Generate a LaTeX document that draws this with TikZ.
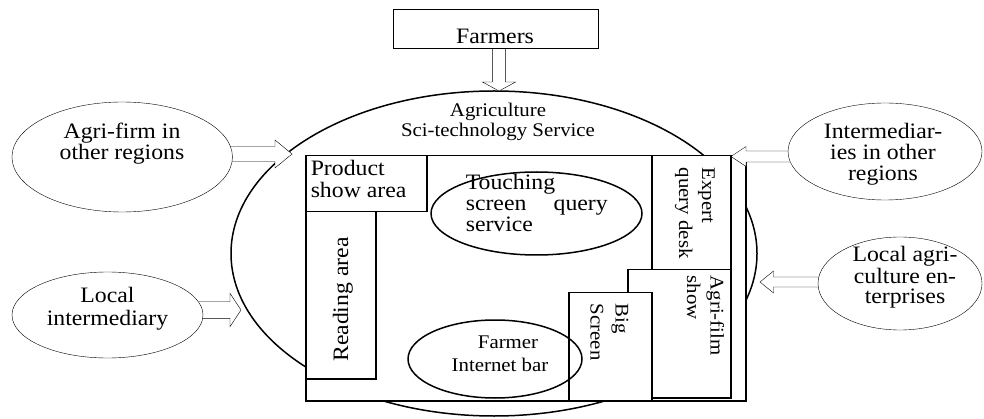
\documentclass[tikz,border=0pt]{standalone}
\usepackage{fontspec}
\setmainfont{Liberation Serif}[FakeStretch=1.08]
\usetikzlibrary{shapes.geometric,calc}
\pgfdeclarelayer{front}
\pgfsetlayers{main,front}
\newcommand{\fL}[1]{\fontsize{22}{#1}\selectfont}
\newcommand{\fS}[1]{\fontsize{19.3}{#1}\selectfont}
\newcommand{\linesof}[2]{\begin{tabular}[t]{@{}#1@{}}#2\end{tabular}}
\newcommand{\hollowarrow}[5]{%
  \coordinate (ha-s) at ($(#1)!-4pt!(#2)$);
  \coordinate (ha-h) at ($(#2)!#5!(ha-s)$);
  \draw[blockarrow] ($(ha-s)!#3!90:(#2)$) -- ($(ha-h)!#3!-90:(ha-s)$)
    -- ($(ha-h)!#4!-90:(ha-s)$) -- (#2) -- ($(ha-h)!#4!90:(ha-s)$)
    -- ($(ha-h)!#3!90:(ha-s)$) -- ($(ha-s)!#3!-90:(#2)$);
}
\begin{document}
\begin{tikzpicture}[x=1pt,y=-1pt,line width=1.5pt,
  zone/.style={draw, fill=white, inner sep=0pt, anchor=north west},
  oval/.style={draw, ellipse, inner sep=0pt},
  party/.style={draw, ellipse, fill=white, inner sep=0pt},
  lbl/.style={inner sep=0pt},
  blockarrow/.style={draw, fill=white, line join=miter}]
\useasboundingbox (0,0) rectangle (984,419);

% service area
\node[oval, minimum width=526pt, minimum height=325pt] (svc) at (494,253.5) {};
\node[lbl, anchor=base] (svct) at (498,117) {\fS{20}\linesof{c}{Agriculture\\Sci-technology Service}};
\node[zone, minimum width=440pt, minimum height=245pt] (hall) at (305,155) {};
\node[zone, minimum width=121pt, minimum height=56pt] (prod) at (305,155) {};
\node[zone, minimum width=70pt, minimum height=167pt] (read) at (305,211) {};
\node[zone, minimum width=79pt, minimum height=114pt] (expert) at (651,155) {};
\node[zone, minimum width=103pt, minimum height=128pt] (film) at (627,269) {};
\node[zone, minimum width=83pt, minimum height=108pt] (bigs) at (568,292) {};
\node[oval, minimum width=211pt, minimum height=83pt] (touch) at (536.5,213.5) {};
\node[oval, minimum width=174pt, minimum height=78pt] (bar) at (495,359) {};

\node[lbl, anchor=base west] (prodt) at (310,175.7) {\fL{22}\linesof{l}{Product\\show area}};
\node[lbl, anchor=base, rotate=90] (readt) at (348,299.5) {\fL{21}Reading area};
\node[lbl, anchor=base west] (toucht) at (465,190) {\fL{21}\linesof{l}{Touching\\\makebox[142pt]{screen\hfill query}\\service}};
\node[lbl, anchor=base] (bart) at (500,348.3) {\fS{21}\linesof{c}{\hspace*{16pt}Farmer\\[2.4pt]Internet bar}};
\node[lbl, anchor=base west, rotate=-90] (expertt) at (702,167) {\fS{23}\linesof{l}{Expert\\query desk}};
\node[lbl, anchor=base west, rotate=-90] (filmt) at (710.5,275) {\fS{23.5}\linesof{l}{Agri-film\\show}};
\node[lbl, anchor=base west, rotate=-90] (bigst) at (615.5,303) {\fS{25}\linesof{l}{Big\\Screen}};

% outside parties
\begin{pgfonlayer}{front}
\node[zone, minimum width=205pt, minimum height=39pt] (farmers) at (393,9) {};
\node[lbl, anchor=base] (farmerst) at (495,43.3) {\fL{21}Farmers};
\node[party, minimum width=220.5pt, minimum height=110pt] (agf) at (122.2,157) {};
\node[lbl, anchor=base] (agft) at (122,138.3) {\fL{21}\linesof{c}{Agri-firm in\\other regions}};
\node[party, minimum width=191pt, minimum height=86pt] (locint) at (107.5,315) {};
\node[lbl, anchor=base] (locintt) at (107.5,302.7) {\fL{22.3}\linesof{c}{Local\\intermediary}};
\node[party, minimum width=194pt, minimum height=97pt] (inter) at (885,151.5) {};
\node[lbl, anchor=base] (intert) at (883,138.3) {\fL{21}\linesof{c}{Intermediar-\\ies in other\\regions}};
\node[party, minimum width=164pt, minimum height=93pt] (lae) at (900,283.5) {};
\node[lbl, anchor=base] (laet) at (905,262) {\fL{20}\linesof{c}{Local agri-\\culture en-\\terprises}};
\end{pgfonlayer}

% arrows
\coordinate (a1t) at (292,154);
\coordinate (a2t) at (241,310);
\coordinate (a3t) at (731,156.5);
\coordinate (a4t) at (760,282);
\coordinate (a5t) at (499,91);
\hollowarrow{agf.east |- a1t}{a1t}{7.5pt}{14pt}{17pt}
\hollowarrow{locint.east |- a2t}{a2t}{8.3pt}{16.7pt}{11pt}
\hollowarrow{inter.west |- a3t}{a3t}{5.5pt}{10pt}{15pt}
\hollowarrow{lae.west |- a4t}{a4t}{5pt}{11pt}{13.5pt}
\hollowarrow{a5t |- farmers.south}{a5t}{6.6pt}{16.6pt}{9pt}
\end{tikzpicture}
\end{document}
